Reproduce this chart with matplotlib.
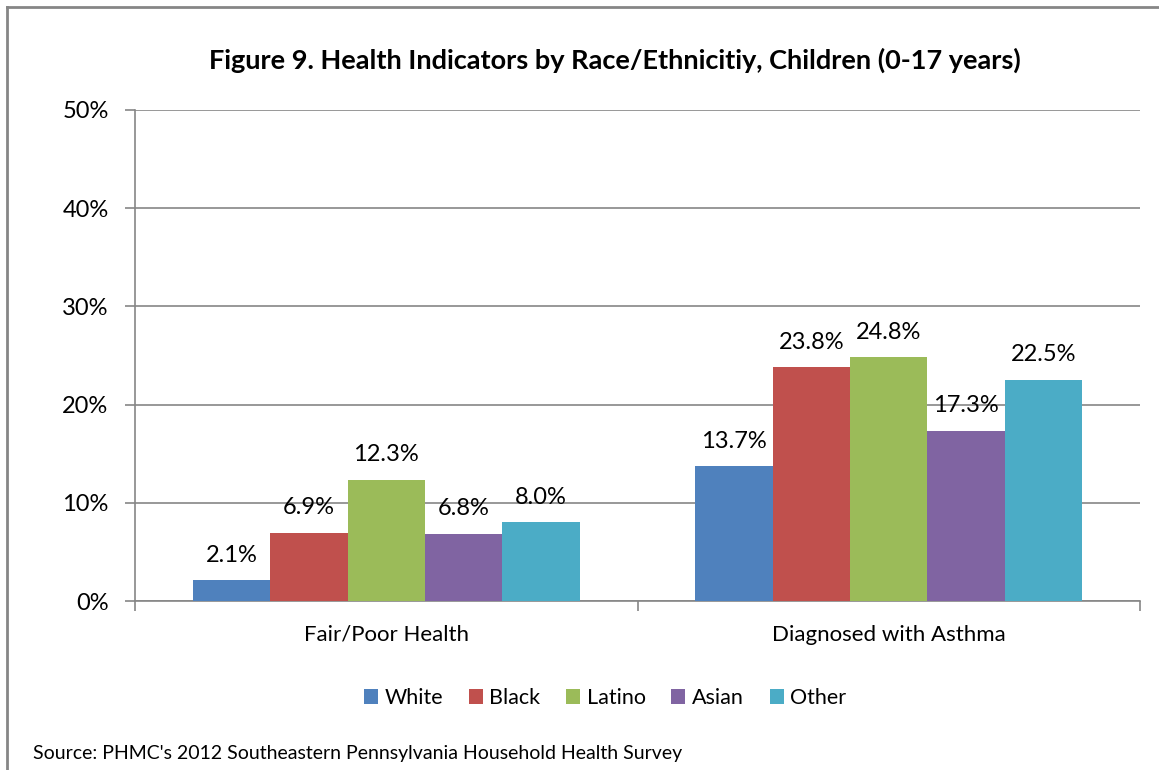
import matplotlib.pyplot as plt
import numpy as np
from matplotlib.lines import Line2D

categories = ["Fair/Poor Health", "Diagnosed with Asthma"]
groups = ["White", "Black", "Latino", "Asian", "Other"]
values = {
    "White": [2.1, 13.7],
    "Black": [6.9, 23.8],
    "Latino": [12.3, 24.8],
    "Asian": [6.8, 17.3],
    "Other": [8.0, 22.5],
}
colors = ["#4F81BD", "#C0504D", "#9BBB59", "#8064A2", "#4BACC6"]
yticks = [0, 10, 20, 30, 40, 50]

plt.rcParams['font.family'] = ['Lato', 'DejaVu Sans']

fig = plt.figure(figsize=(11.59, 7.7), dpi=100)
ax = fig.add_axes([135/1159, 1 - 601/770, (1140 - 135)/1159, (601 - 110)/770])

bw = 1 / 6.5
x = np.arange(len(categories))
for i, (g, c) in enumerate(zip(groups, colors)):
    pos = x + (i - 2) * bw
    bars = ax.bar(pos, values[g], width=bw, color=c, label=g, zorder=3)
    for b, v in zip(bars, values[g]):
        ax.annotate(f"{v:.1f}%", (b.get_x() + b.get_width() / 2, v),
                    xytext=(0, 13.5), textcoords="offset points",
                    ha="center", va="baseline", fontsize=17)

ax.set_xlim(-0.5, 1.5)
ax.set_ylim(0, 50)
ax.set_yticks(yticks)
ax.set_yticklabels([f"{t}%" for t in yticks], fontsize=17)
ax.yaxis.grid(True, color="#868686", linewidth=1.2, zorder=0)
ax.set_xticks([-0.5, 0.5, 1.5])
ax.set_xticklabels([])
ax.set_xticks(x, minor=True)
ax.set_xticklabels(categories, minor=True, fontsize=16)
ax.tick_params(axis="x", which="minor", length=0, pad=17)
ax.tick_params(axis="x", which="major", length=7, color="#868686", width=1.2)
ax.tick_params(axis="y", length=7, color="#868686", width=1.2, pad=12)
for s in ["top", "right"]:
    ax.spines[s].set_visible(False)
for s in ["left", "bottom"]:
    ax.spines[s].set_color("#868686")
    ax.spines[s].set_linewidth(1.2)

fig.text(615/1159, 1 - 60/770, "Figure 9. Health Indicators by Race/Ethnicitiy, Children (0-17 years)",
         ha="center", va="center", fontsize=19.5, fontweight="bold")

ax.legend(loc="center", bbox_to_anchor=(605/1159, 1 - 698/770), bbox_transform=fig.transFigure,
          ncol=5, frameon=False, fontsize=15.5, handlelength=0.65, handleheight=0.65,
          handletextpad=0.3, columnspacing=1.2)

fig.text(33/1159, 1 - 753/770, "Source: PHMC's 2012 Southeastern Pennsylvania Household Health Survey",
         ha="left", va="center", fontsize=14)

fig.add_artist(Line2D([7/1159, 7/1159], [0, 1 - 7/770], color="#868686", linewidth=2))
fig.add_artist(Line2D([7/1159, 1], [1 - 7/770, 1 - 7/770], color="#868686", linewidth=2))

fig.savefig("out.png", dpi=100)
